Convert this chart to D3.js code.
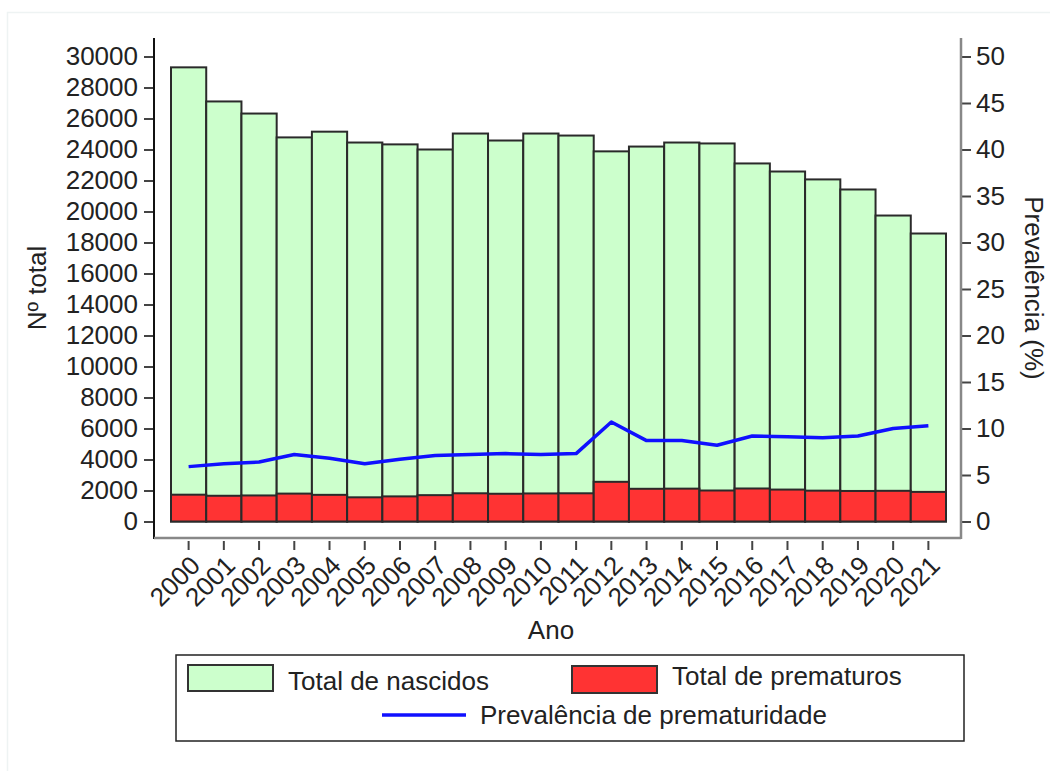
<!DOCTYPE html>
<html>
<head>
<meta charset="utf-8">
<script src="https://cdn.jsdelivr.net/npm/d3@7"></script>
<style>
  html, body { margin: 0; padding: 0; background: #fff; }
  svg { display: block; }
  text { font-family: "Liberation Sans", Arial, Helvetica, sans-serif; fill: #222; }
</style>
</head>
<body>
<svg id="chart" width="1050" height="771"></svg>
<script>
// Anos
const years = ['2000','2001','2002','2003','2004','2005','2006','2007','2008','2009','2010',
               '2011','2012','2013','2014','2015','2016','2017','2018','2019','2020','2021'];

// Total de nascidos
const nascidos = [29300, 27100, 26320, 24780, 25150, 24450, 24330, 24000, 25030, 24580, 25030,
                  24900, 23880, 24190, 24450, 24390, 23100, 22580, 22070, 21420, 19740, 18580];

// Total de prematuros
const prematuros = [1730, 1660, 1680, 1800, 1720, 1560, 1620, 1700, 1820, 1790, 1810,
                    1820, 2560, 2110, 2120, 2000, 2130, 2060, 1990, 1970, 1980, 1910];

// Prevalência de prematuridade (%)
const prevalencia = [5.9, 6.2, 6.4, 7.2, 6.8, 6.2, 6.7, 7.1, 7.2, 7.3, 7.2,
                     7.3, 10.7, 8.7, 8.7, 8.2, 9.2, 9.1, 9.0, 9.2, 10.0, 10.3];

const leftTicks = d3.range(0, 30001, 2000);
const rightTicks = d3.range(0, 51, 5);

const FS = '26px';
const svg = d3.select('#chart');

// faint outer frame
svg.append('rect')
  .attr('x', 7.5).attr('y', 12.5).attr('width', 1100).attr('height', 800)
  .attr('fill', 'none').attr('stroke', '#eef3f3').attr('stroke-width', 1.5);

const x = d3.scaleBand().domain(years).range([171, 946]).padding(0);
const yL = d3.scaleLinear().domain([0, 30000]).range([521.5, 56.5]);
const yR = d3.scaleLinear().domain([0, 50]).range([521.5, 56.5]);

const axisLeftX = 154, axisRightX = 961, axisBottomY = 538;

// bars: total de nascidos
svg.append('g').selectAll('rect')
  .data(years)
  .join('rect')
  .attr('x', (d) => x(d))
  .attr('width', x.bandwidth())
  .attr('y', (d, i) => yL(nascidos[i]))
  .attr('height', (d, i) => yL(0) - yL(nascidos[i]))
  .attr('fill', '#ccffcc')
  .attr('stroke', '#2a2a2a')
  .attr('stroke-width', 2);

// bars: total de prematuros
svg.append('g').selectAll('rect')
  .data(years)
  .join('rect')
  .attr('x', (d) => x(d))
  .attr('width', x.bandwidth())
  .attr('y', (d, i) => yL(prematuros[i]))
  .attr('height', (d, i) => yL(0) - yL(prematuros[i]))
  .attr('fill', '#ff3333')
  .attr('stroke', '#2a2a2a')
  .attr('stroke-width', 2);

// prevalence line
const line = d3.line()
  .x((d, i) => x(years[i]) + x.bandwidth() / 2)
  .y((d) => yR(d));

svg.append('path')
  .datum(prevalencia)
  .attr('d', line)
  .attr('fill', 'none')
  .attr('stroke', '#1010ff')
  .attr('stroke-width', 3.5)
  .attr('stroke-linejoin', 'round');

// left axis
const gL = svg.append('g').attr('transform', `translate(${axisLeftX},0)`)
  .call(d3.axisLeft(yL).tickValues(leftTicks).tickFormat(d3.format('d'))
    .tickSize(10).tickPadding(6).tickSizeOuter(0));
gL.select('.domain').remove();
gL.selectAll('.tick line').attr('stroke', '#444').attr('stroke-width', 2);
gL.selectAll('.tick text').style('font-size', FS).attr('fill', '#222');
svg.append('line')
  .attr('x1', axisLeftX).attr('x2', axisLeftX).attr('y1', 38).attr('y2', axisBottomY + 1)
  .attr('stroke', '#111').attr('stroke-width', 2);

// right axis
const gR = svg.append('g').attr('transform', `translate(${axisRightX},0)`)
  .call(d3.axisRight(yR).tickValues(rightTicks).tickFormat(d3.format('d'))
    .tickSize(10).tickPadding(5).tickSizeOuter(0));
gR.select('.domain').remove();
gR.selectAll('.tick line').attr('stroke', '#444').attr('stroke-width', 2);
gR.selectAll('.tick text').style('font-size', FS).attr('fill', '#222');
svg.append('line')
  .attr('x1', axisRightX).attr('x2', axisRightX).attr('y1', 38).attr('y2', axisBottomY + 1)
  .attr('stroke', '#888').attr('stroke-width', 2.5);

// bottom axis
svg.append('line')
  .attr('x1', axisLeftX).attr('x2', axisRightX).attr('y1', axisBottomY).attr('y2', axisBottomY)
  .attr('stroke', '#888').attr('stroke-width', 2.5);
const gB = svg.append('g').attr('transform', `translate(0,${axisBottomY + 3})`)
  .call(d3.axisBottom(x).tickSize(9).tickPadding(0).tickSizeOuter(0));
gB.select('.domain').remove();
gB.selectAll('.tick line').attr('stroke', '#444').attr('stroke-width', 2);
gB.selectAll('.tick text')
  .style('font-size', FS)
  .attr('text-anchor', 'end')
  .attr('dy', null)
  .attr('y', 0)
  .attr('transform', 'translate(13,26) rotate(-45)');

// axis titles
svg.append('text')
  .attr('transform', 'translate(46,288) rotate(-90)')
  .attr('text-anchor', 'middle')
  .style('font-size', FS)
  .text('Nº total');

svg.append('text')
  .attr('transform', 'translate(1025,288) rotate(90)')
  .attr('text-anchor', 'middle')
  .style('font-size', FS)
  .text('Prevalência (%)');

svg.append('text')
  .attr('x', 551).attr('y', 639)
  .attr('text-anchor', 'middle')
  .style('font-size', FS)
  .text('Ano');

// legend
const lg = svg.append('g');
lg.append('rect')
  .attr('x', 176).attr('y', 655).attr('width', 788).attr('height', 86)
  .attr('fill', '#fff').attr('stroke', '#222').attr('stroke-width', 1.5);

lg.append('rect')
  .attr('x', 188).attr('y', 665).attr('width', 85).attr('height', 26)
  .attr('fill', '#ccffcc').attr('stroke', '#333').attr('stroke-width', 2);
lg.append('text').attr('x', 288).attr('y', 690).style('font-size', FS).text('Total de nascidos');

lg.append('rect')
  .attr('x', 572).attr('y', 666).attr('width', 85).attr('height', 27)
  .attr('fill', '#ff3333').attr('stroke', '#333').attr('stroke-width', 2);
lg.append('text').attr('x', 672).attr('y', 685).style('font-size', FS).text('Total de prematuros');

lg.append('line')
  .attr('x1', 382).attr('x2', 466).attr('y1', 715).attr('y2', 715)
  .attr('stroke', '#1010ff').attr('stroke-width', 3.5);
lg.append('text').attr('x', 480).attr('y', 724).style('font-size', FS).text('Prevalência de prematuridade');
</script>
</body>
</html>
